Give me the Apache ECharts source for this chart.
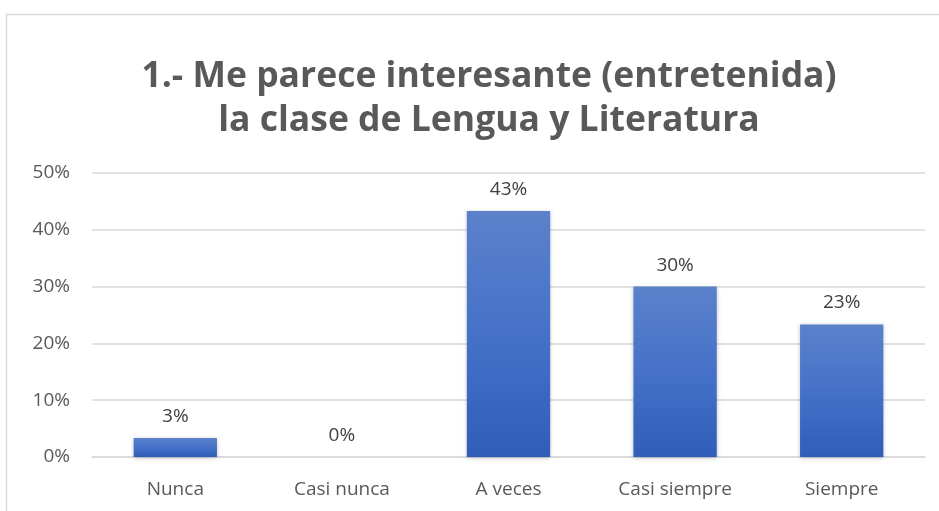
<!DOCTYPE html>
<html><head><meta charset="utf-8">
<script src="https://cdn.jsdelivr.net/npm/echarts@6/dist/echarts.min.js"></script>
<style>html,body{margin:0;padding:0;background:#fff;}#c{width:939px;height:511px;}</style>
</head><body><div id="c"></div>
<script>
var categories = ['Nunca', 'Casi nunca', 'A veces', 'Casi siempre', 'Siempre'];
var values = [3.33, 0, 43.33, 30.0, 23.33];
var yTicks = [0, 10, 20, 30, 40, 50];
var titleLines = ['1.- Me parece interesante (entretenida)', 'la clase de Lengua y Literatura'];

var chart = echarts.init(document.getElementById('c'), null, {renderer: 'canvas'});
chart.setOption({
  animation: false,
  backgroundColor: '#fff',
  graphic: [{
    type: 'rect', shape: {x: 6.5, y: 14.5, width: 1000, height: 600},
    style: {fill: 'none', stroke: '#d9d9d9', lineWidth: 1.5}, z: -1
  }],
  title: {
    text: titleLines.join('\n'),
    left: 484, textAlign: 'center', top: 50,
    textStyle: {fontFamily: 'Open Sans', fontWeight: 'bold', fontSize: 35.5, color: '#595959', lineHeight: 44}
  },
  grid: {left: 92, right: 14, top: 173, bottom: 54},
  xAxis: {
    type: 'category', data: categories,
    axisLine: {lineStyle: {color: '#d9d9d9', width: 1.5}},
    axisTick: {show: false},
    axisLabel: {color: '#595959', fontFamily: 'Open Sans', fontSize: 19, margin: 23}
  },
  yAxis: {
    type: 'value', min: yTicks[0], max: yTicks[yTicks.length - 1], interval: 10,
    axisLine: {show: false}, axisTick: {show: false},
    splitLine: {lineStyle: {color: '#d9d9d9', width: 1.5}},
    axisLabel: {color: '#595959', fontFamily: 'Open Sans', fontSize: 19, margin: 22, formatter: function (v) { return v + '%'; }}
  },
  series: [{
    type: 'bar', data: values, barWidth: '50%',
    itemStyle: {
      color: new echarts.graphic.LinearGradient(0, 0, 0, 1, [
        {offset: 0, color: '#5b81cb'}, {offset: 0.5, color: '#4572c8'}, {offset: 1, color: '#2f5db8'}
      ]),
      shadowColor: 'rgba(0,0,0,0.25)', shadowBlur: 4, shadowOffsetY: 1
    },
    label: {
      show: true, position: 'top', distance: 12, color: '#404040', fontFamily: 'Open Sans', fontSize: 19,
      formatter: function (p) { return Math.round(p.value) + '%'; }
    }
  }]
});
</script></body></html>
